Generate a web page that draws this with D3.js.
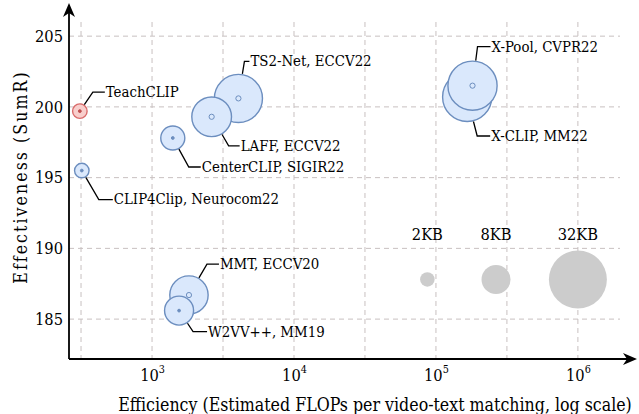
<!DOCTYPE html>
<html>
<head>
<meta charset="utf-8">
<script src="https://cdn.jsdelivr.net/npm/d3@7"></script>
<style>
  body { margin: 0; background: white; }
</style>
</head>
<body>
<svg id="main"></svg>
<script>
  // data
  const methods = ["TS2-Net, ECCV22", "LAFF, ECCV22", "CenterCLIP, SIGIR22", "TeachCLIP",
                   "CLIP4Clip, Neurocom22", "X-CLIP, MM22", "X-Pool, CVPR22", "MMT, ECCV20", "W2VV++, MM19"]
  const flops  = [4060, 2630, 1400, 310, 320, 166000, 181000, 1820, 1550]
  const sumR   = [200.6, 199.3, 197.8, 199.7, 195.5, 200.7, 201.5, 186.7, 185.6]
  const memKB  = [22, 15, 5.5, 2, 2, 23, 23, 14, 8]
  const isOurs = [false, false, false, true, false, false, false, false, false]

  const legendKB    = [2, 8, 32]
  const legendFlops = [87000, 265000, 1000000]
  const legendSumR  = 187.8

  const yTicks = [185, 190, 195, 200, 205]
  const xTicks = [1e3, 1e4, 1e5, 1e6]
  const xGrid  = [316, 1000, 3162, 10000, 31623, 100000, 316228, 1000000]
  const xExp   = ["3", "4", "5", "6"]

  const xTitle = "Efficiency (Estimated FLOPs per video-text matching, log scale)"
  const yTitle = "Effectiveness (SumR)"

  // label leader offsets in px: elbow dx, dy from bubble centre, then text gap
  const labelOffsets = [[6, -37, 6], [17, 29, 12], [16, 29, 13], [13, -19, 13], [17, 29, 15],
                        [10, 39, 14], [5, -39, 14], [18, -31, 13], [14, 21, 15]]

  const width = 639, height = 414
  const svg = d3.select("#main").attr("width", width).attr("height", height)
      .attr("font-family", "'DejaVu Serif Condensed', 'DejaVu Serif', serif")
      .attr("font-stretch", "condensed")

  // only a wide serif is installed, so size text to the widths seen in the picture
  function fitSize(str, target) {
    const t = svg.append("text").attr("font-size", 20).text(str)
    const w = t.node().getComputedTextLength()
    t.remove()
    return 20 * target / w
  }
  const labelSize = fitSize("TeachCLIP", 73)
  const tickSize  = fitSize("205", 28)
  const titleSize = fitSize(xTitle, 514)

  const x = d3.scaleLog().domain([260, 1.98e6]).range([69, 620])
  const y = d3.scaleLinear().domain([182.18, 206]).range([359, 22])
  const r = d3.scaleSqrt().domain([0, 32]).range([0, 29])

  // grid
  const grid = svg.append("g").attr("stroke", "#c8c0c0").attr("stroke-width", 1)
      .attr("stroke-dasharray", "5,4").attr("fill", "none")
  grid.selectAll("line.h").data(yTicks).join("line").attr("class", "h")
      .attr("x1", x.range()[0]).attr("x2", x.range()[1])
      .attr("y1", d => y(d)).attr("y2", d => y(d))
  grid.selectAll("line.v").data(xGrid).join("line").attr("class", "v")
      .attr("x1", d => x(d)).attr("x2", d => x(d))
      .attr("y1", y.range()[1]).attr("y2", y.range()[0])

  // y axis
  const yAxis = svg.append("g").attr("transform", `translate(${x.range()[0]},0)`)
      .call(d3.axisLeft(y).tickValues(yTicks).tickSize(0).tickPadding(6))
  yAxis.attr("font-family", null).attr("font-size", null)
  yAxis.select(".domain").remove()
  yAxis.selectAll("text").attr("font-size", tickSize).attr("fill", "#000")

  // x axis
  const xAxis = svg.append("g").attr("transform", `translate(0,${y.range()[0]})`)
      .call(d3.axisBottom(x).tickValues(xTicks).tickSize(0).tickFormat(() => ""))
  xAxis.attr("font-family", null).attr("font-size", null)
  xAxis.select(".domain").remove()
  xAxis.selectAll(".tick text").each(function(d, i) {
    const t = d3.select(this).attr("y", 22).attr("dy", 0).attr("font-size", tickSize).attr("fill", "#000")
    t.append("tspan").text("10")
    t.append("tspan").attr("font-size", tickSize * 0.66).attr("dy", -8).text(xExp[i])
  })

  // axis lines with arrows
  const x0 = x.range()[0], yb = y.range()[0]
  svg.append("line").attr("x1", x0).attr("x2", x0).attr("y1", yb).attr("y2", 12)
      .attr("stroke", "#000").attr("stroke-width", 1.8)
  svg.append("path").attr("d", `M${x0},3 L${x0 + 6},17 L${x0},13 L${x0 - 6},17 Z`).attr("fill", "#000")
  svg.append("line").attr("x1", x0).attr("x2", 628).attr("y1", yb).attr("y2", yb)
      .attr("stroke", "#000").attr("stroke-width", 1.8)
  svg.append("path").attr("d", `M637,${yb} L623,${yb - 6} L627,${yb} L623,${yb + 6} Z`).attr("fill", "#000")

  // axis titles
  svg.append("text").attr("x", 375).attr("y", 411).attr("text-anchor", "middle")
      .attr("font-size", titleSize).text(xTitle)
  const yt = svg.append("text").attr("transform", "translate(27,177) rotate(-90)").attr("text-anchor", "middle")
      .attr("font-size", titleSize).text(yTitle)
  const ytLen = yt.node().getComputedTextLength()
  yt.attr("letter-spacing", Math.max(0, (213 - ytLen) / yTitle.length))

  // legend
  svg.append("g").selectAll("circle").data(legendKB).join("circle")
      .attr("cx", (d, i) => x(legendFlops[i])).attr("cy", y(legendSumR))
      .attr("r", d => r(d)).attr("fill", "#cccccc")
  svg.append("g").selectAll("text").data(legendKB).join("text")
      .attr("x", (d, i) => x(legendFlops[i])).attr("y", 240).attr("text-anchor", "middle")
      .attr("font-size", tickSize).text(d => d + "KB")

  // bubbles
  const idx = d3.range(methods.length)
  const bub = svg.append("g").selectAll("g").data(idx).join("g")
      .attr("transform", i => `translate(${x(flops[i])},${y(sumR[i])})`)
  bub.append("circle").attr("r", i => r(memKB[i]))
      .attr("fill", i => isOurs[i] ? "#f8cecc" : "#dae8fc")
      .attr("stroke", i => isOurs[i] ? "#d96b6b" : "#6c8ebf").attr("stroke-width", 1.4)
  bub.append("circle").attr("r", i => r(memKB[i]) > 15 ? 2.6 : 1.4)
      .attr("fill", i => r(memKB[i]) > 15 ? "none" : (isOurs[i] ? "#c05050" : "#6c8ebf"))
      .attr("stroke", i => isOurs[i] ? "#c05050" : "#6c8ebf").attr("stroke-width", 1)

  // labels with leader lines
  const lab = svg.append("g").selectAll("g").data(idx).join("g")
      .attr("transform", i => `translate(${x(flops[i])},${y(sumR[i])})`)
  lab.append("path").attr("fill", "none").attr("stroke", "#000").attr("stroke-width", 1.3)
      .attr("d", i => {
        const [dx, dy, gap] = labelOffsets[i]
        const len = Math.hypot(dx, dy), rr = r(memKB[i]) + 0.7
        return `M${dx / len * rr},${dy / len * rr}L${dx},${dy}L${dx + gap - 1},${dy}`
      })
  lab.append("text").attr("x", i => labelOffsets[i][0] + labelOffsets[i][2])
      .attr("y", i => labelOffsets[i][1]).attr("dy", "0.33em")
      .attr("font-size", labelSize).text(i => methods[i])
</script>
</body>
</html>
